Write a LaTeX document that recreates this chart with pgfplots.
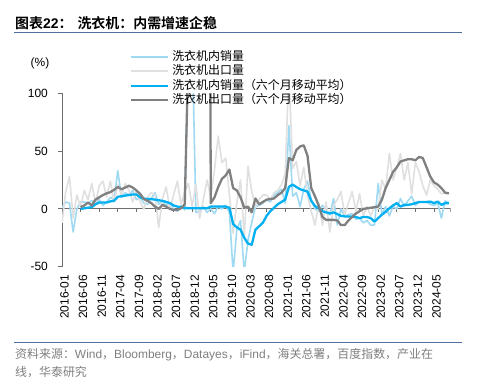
\documentclass[border=0pt]{standalone}
\usepackage{pgfplots}
\pgfplotsset{compat=1.18}
\usepackage{pgfplotstable}
\usepackage{fontspec}
\setmainfont{Liberation Sans}
\newfontfamily\cjk{Noto Sans CJK SC}[BoldFont={Noto Sans CJK SC Bold}]
\definecolor{lblue}{RGB}{160,218,242}
\definecolor{lgray}{RGB}{224,224,224}
\definecolor{mblue}{RGB}{0,176,240}
\definecolor{dgray}{RGB}{128,128,128}
\definecolor{axgray}{RGB}{110,110,110}
\definecolor{rulec}{RGB}{80,110,160}
\definecolor{srcgray}{RGB}{128,128,128}

\pgfplotstableread{
m dm em dma ema
0 1 -12 nan nan
1 6 15 nan nan
2 5 28 nan nan
3 -20 -8 nan nan
4 0 12 nan nan
5 6 2 0 1.5
6 6 16 0.5 3
7 5 8 1 5.5
8 7 22 1.5 3
9 4 5 4 8
10 8 20 5.5 10
11 3 24 5.5 12
12 6 10 5.5 13.5
13 10 24 6.5 14.5
14 8 6 7 16.5
15 33 21 10.5 19
16 10 12 11 17
17 14 22 11.5 18.5
18 12 16 12 20
19 16 6 12.5 18.5
20 8 16 12.5 16
21 10 6 10 13
22 5 0 9 8.5
23 4 10 8.5 7
24 9 14 8.5 5
25 14 12 8 2
26 4 -16 7.5 0
27 7 9 7 3.5
28 3 19 6 2
29 5 0 5 0
30 0 12 3 -1
31 -2 24 2 -1
32 3 4 1.5 0.5
33 -1 15 1 4
34 145 22 0.5 140
35 145 2 0.5 200
36 -3 21 0.5 200
37 -2 -8 0.5 200
38 2 8 0.5 200
39 -3 25 0.5 900
40 0 10 2 5
41 -4 34 2 10
42 2 63 2 19
43 0 40 2 26
44 3 44 2 29
45 -3 12 1 34
46 -55 -21 -13 18
47 -18 5 -16 16
48 -10 25 -18 10
49 -55 -24 -25 1
50 -27 37 -30 2
51 -12 15 -31 -3
52 2 2 -18 9
53 3 8 -15 4
54 5 12 -12 6
55 8 12 -6 8
56 6 8 -2 8.5
57 12 14 1 9
58 14 16 4 12
59 17 21 6 14
60 5 30 8 18
61 72 120 19 44
62 11 35 21 42
63 14 41 19 51
64 2 20 17 54
65 17 36 16 55
66 24 12 15 46
67 8 -2 7 18
68 0 -14 2.5 11
69 -2 5 0.5 3
70 3 -14 -2 -7
71 0 6 -3 -9.5
72 -5 -20 -4 -9.5
73 9 3 -3 -9.5
74 -14 8 -4.5 -10
75 0 15 -6 -14
76 -6 -5 -6.5 -14
77 -5 5 -6.5 -10
78 -4 15 -6.5 -7
79 -9 -2 -7 -4
80 -8 13 -8 -2
81 -12 -6 -7 0
82 -10 2 -7 0.5
83 -14 -6 -8 1
84 -14 2 -11 1.5
85 22 0 -8 2
86 -5 25 -5 8
87 2 17 -2.5 18
88 -6 48 0.5 25
89 2 25 3 32
90 0 35 5 36
91 9 48 2 41
92 2 25 3.5 42
93 7 40 3.5 43
94 11 13 4 43
95 3 40 5 42
96 6 32 6 45
97 6 20 6 44
98 6 12 6 36
99 4 25 6.3 28
100 3 20 5 23
101 5 17 6.3 21
102 -8 13 3.5 18
103 7 14 5 14
104 5 13 5 13.5
}\data

\begin{document}
\begin{tikzpicture}[x=1bp,y=1bp]
\fill[white] (0,0) rectangle (477,389);
\path[use as bounding box] (0,0) rectangle (477,389);
% title
\node[anchor=base west, inner sep=0pt, font=\bfseries\fontsize{14}{16}\selectfont] at (15,360.4)
  {{\cjk 图表}22{\cjk ：}\hspace{5bp}{\cjk 洗衣机：内需增速企稳}};
\draw[rulec, line width=1bp] (14,356.7) -- (462,356.7);
\draw[rulec, line width=1bp] (14,46.3) -- (462,46.3);
% source
\node[anchor=base west, inner sep=0pt, text=srcgray, font=\fontsize{12}{14}\selectfont] at (15,30.1)
  {{\cjk 资料来源：}Wind{\cjk ，}Bloomberg{\cjk ，}Datayes{\cjk ，}iFind{\cjk ，海关总署，百度指数，产业在}};
\node[anchor=base west, inner sep=0pt, text=srcgray, font=\fontsize{12}{14}\selectfont] at (15,12.7)
  {{\cjk 线，华泰研究}};
% unit
\node[font=\fontsize{12}{14}\selectfont] at (40,326) {(\%)};

\begin{axis}[
  at={(62bp,122.3bp)}, anchor=south west,
  scale only axis, width=388.7bp, height=173.4bp,
  xmin=0, xmax=104.5, ymin=-50, ymax=100,
  axis y line*=left, axis x line*=bottom,
  x axis line style={opacity=0},
  y axis line style={axgray, line width=0.9bp},
  ytick={-50,0,50,100}, yticklabels={-50,0,50,100},
  ytick align=outside, major tick length=4bp,
  ytick style={axgray, line width=0.9bp},
  xtick={0,5,...,100},
  xtick style={draw=none},
  xticklabels={2016-01,2016-06,2016-11,2017-04,2017-09,2018-02,2018-07,2018-12,2019-05,2019-10,2020-03,2020-08,2021-01,2021-06,2021-11,2022-04,2022-09,2023-02,2023-07,2023-12,2024-05},
  tick label style={font=\fontsize{12}{14}\selectfont, text=black},
  xticklabel style={xshift=2.5bp, rotate=90, anchor=east, inner sep=0pt},
  xticklabel shift=8bp,
  yticklabel style={inner sep=0pt},
  yticklabel shift=10bp,
  legend style={at={(rel axis cs:0.1749,1.2526)}, anchor=north west, draw=none, fill=none,
    inner sep=0pt, outer sep=0pt, column sep=2bp, row sep=0pt,
    nodes={inner sep=1bp, text height=9.5bp, text depth=3bp, anchor=west},
    font=\cjk\fontsize{12}{14}\selectfont},
  legend cell align=left,
  legend image code/.code={\draw[#1] (0bp,0bp) -- (37bp,0bp);},
  every axis plot/.append style={line join=round},
]
\draw[axgray, line width=0.9bp] (axis cs:0,0) -- (axis cs:104.5,0);
\pgfplotsinvokeforeach{0,5,...,100,104.5}{\draw[axgray, line width=0.9bp] (axis cs:#1,0) -- ++(0bp,-3.5bp);}
\addplot[lblue, line width=1.6bp] table[x=m,y=dm] {\data};
\addlegendentry{洗衣机内销量}
\addplot[lgray, line width=1.6bp] table[x=m,y=em] {\data};
\addlegendentry{洗衣机出口量}
\addplot[mblue, line width=2.3bp] table[x=m,y=dma] {\data};
\addlegendentry{洗衣机内销量（六个月移动平均）}
\addplot[dgray, line width=2.3bp] table[x=m,y=ema] {\data};
\addlegendentry{洗衣机出口量（六个月移动平均）}
\end{axis}
\end{tikzpicture}
\end{document}
